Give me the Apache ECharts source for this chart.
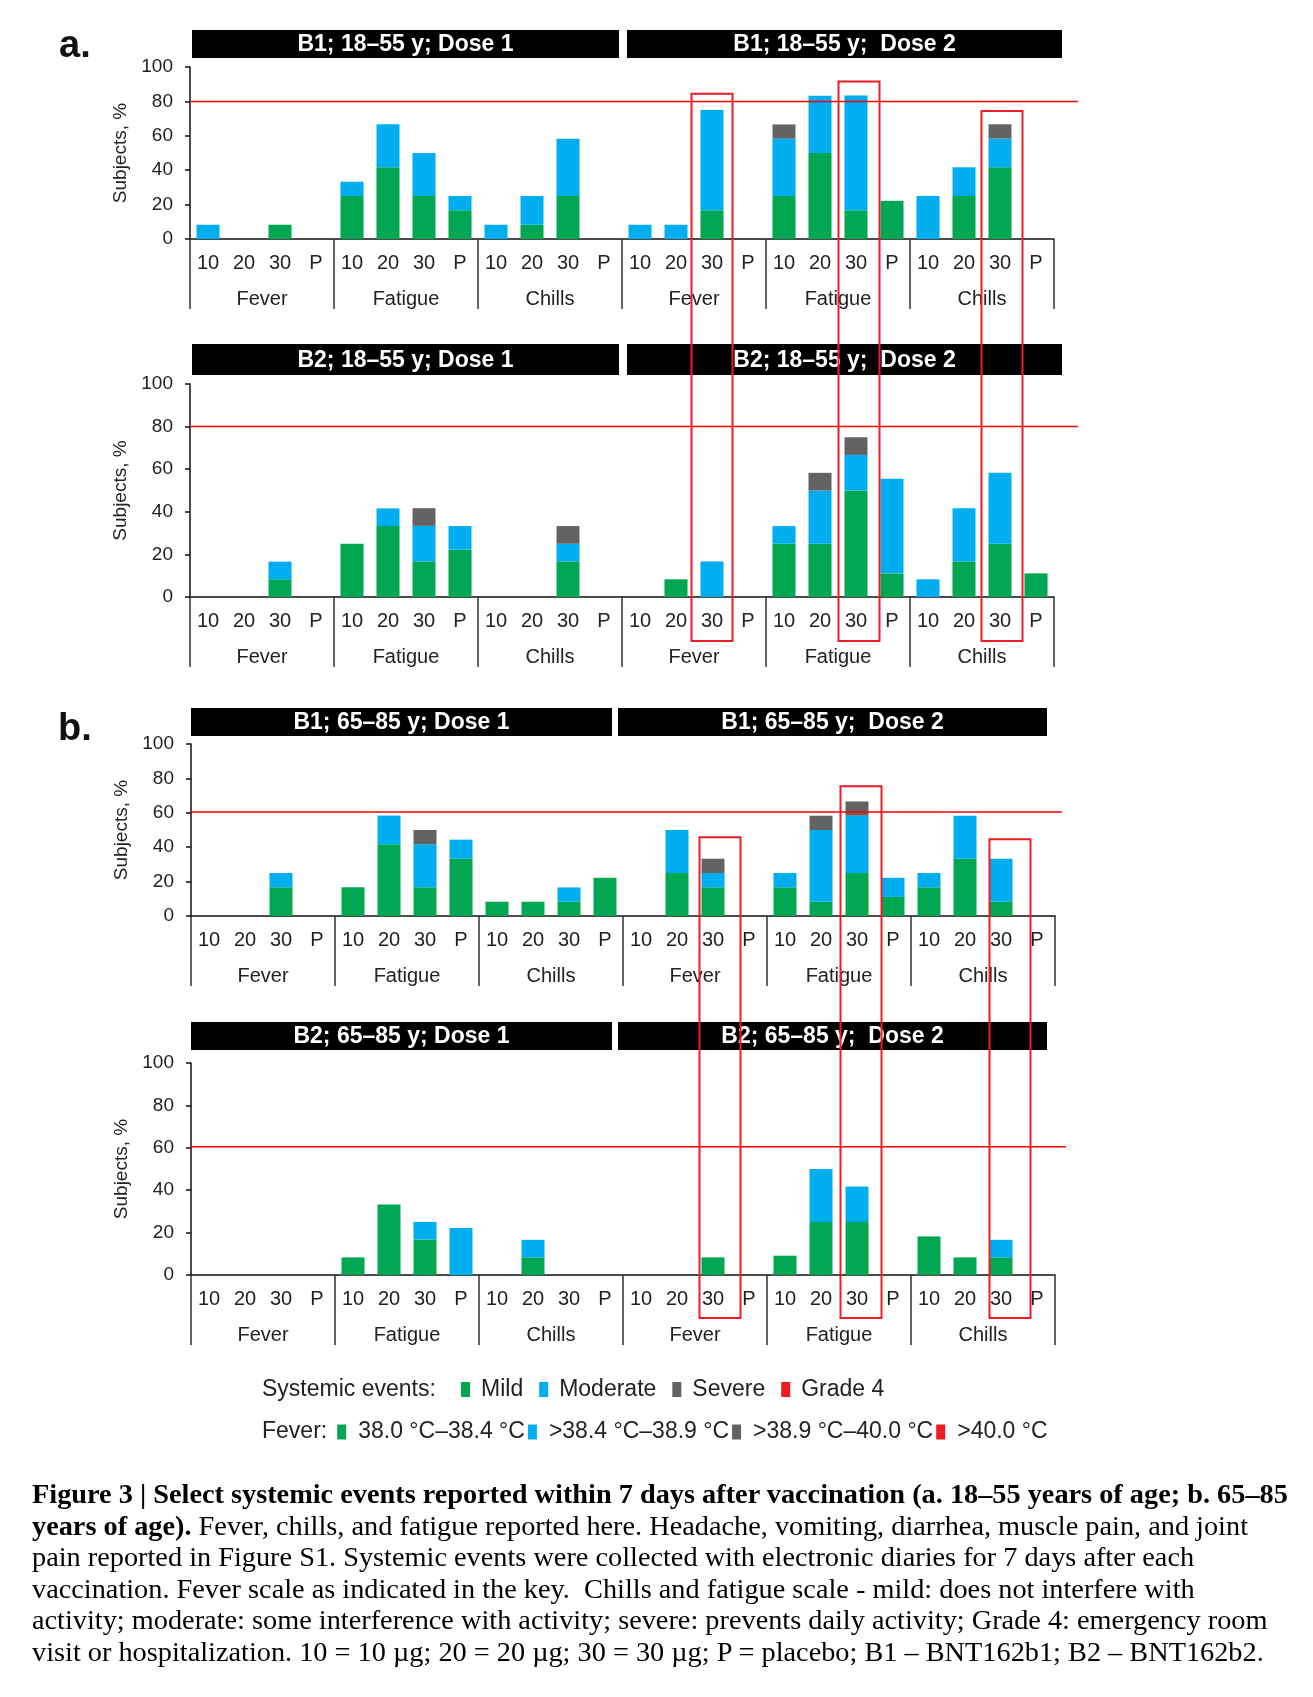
<!DOCTYPE html>
<html><head><meta charset="utf-8">
<script src="https://cdn.jsdelivr.net/npm/echarts@6.0.0/dist/echarts.min.js"></script>
<style>
html,body{margin:0;padding:0;background:#fff;}
#chart{position:absolute;left:0;top:0;width:1313px;height:1697px;}
#cap{position:absolute;left:32px;top:1478px;font-family:"Liberation Serif","Times New Roman",serif;font-size:28.3px;line-height:31.6px;color:#000;white-space:nowrap;}
</style>
</head><body>
<div id="chart"></div>
<div id="cap"><b>Figure 3 | Select systemic events reported within 7 days after vaccination (a. 18–55 years of age; b. 65–85</b><br><b>years of age).</b> Fever, chills, and fatigue reported here. Headache, vomiting, diarrhea, muscle pain, and joint<br>pain reported in Figure S1. Systemic events were collected with electronic diaries for 7 days after each<br>vaccination. Fever scale as indicated in the key.&nbsp; Chills and fatigue scale - mild: does not interfere with<br>activity; moderate: some interference with activity; severe: prevents daily activity; Grade 4: emergency room<br>visit or hospitalization. 10 = 10 µg; 20 = 20 µg; 30 = 30 µg; P = placebo; B1 – BNT162b1; B2 – BNT162b2.</div>
<script>
// ---------- data ----------
const doseLevels = ['10', '20', '30', 'P'];
const eventNames = ['Fever', 'Fatigue', 'Chills'];
const doseCount = 2;
const severityNames = ['Mild', 'Moderate', 'Severe', 'Grade 4'];
const severityColors = ['#00a651', '#00aeef', '#636363', '#ed1c24'];
const yMin = 0, yMax = 100, yStep = 20;

const panelTitles = [
  ['B1; 18–55 y; Dose 1', 'B1; 18–55 y;  Dose 2'],
  ['B2; 18–55 y; Dose 1', 'B2; 18–55 y;  Dose 2'],
  ['B1; 65–85 y; Dose 1', 'B1; 65–85 y;  Dose 2'],
  ['B2; 65–85 y; Dose 1', 'B2; 65–85 y;  Dose 2']
];

// order: Dose1 Fever(10,20,30,P) Fatigue Chills | Dose2 Fever Fatigue Chills
const a1Mild     = [0,0,8.3,0, 25,41.7,25,16.7, 0,8.3,25,0, 0,0,16.7,0, 25,50,16.7,22.2, 0,25,41.7,0];
const a1Moderate = [8.3,0,0,0, 8.3,25,25,8.3, 8.3,16.7,33.3,0, 8.3,8.3,58.3,0, 33.3,33.3,66.7,0, 25,16.7,16.7,0];
const a1Severe   = [0,0,0,0, 0,0,0,0, 0,0,0,0, 0,0,0,0, 8.3,0,0,0, 0,0,8.3,0];
const a1Grade4   = [0,0,0,0, 0,0,0,0, 0,0,0,0, 0,0,0,0, 0,0,0,0, 0,0,0,0];

const a2Mild     = [0,0,8.3,0, 25,33.3,16.7,22.2, 0,0,16.7,0, 0,8.3,0,0, 25,25,50,11.1, 0,16.7,25,11.1];
const a2Moderate = [0,0,8.3,0, 0,8.3,16.7,11.1, 0,0,8.3,0, 0,0,16.7,0, 8.3,25,16.7,44.4, 8.3,25,33.3,0];
const a2Severe   = [0,0,0,0, 0,0,8.3,0, 0,0,8.3,0, 0,0,0,0, 0,8.3,8.3,0, 0,0,0,0];
const a2Grade4   = [0,0,0,0, 0,0,0,0, 0,0,0,0, 0,0,0,0, 0,0,0,0, 0,0,0,0];

const b1Mild     = [0,0,16.7,0, 16.7,41.7,16.7,33.3, 8.3,8.3,8.3,22.2, 0,25,16.7,0, 16.7,8.3,25,11.1, 16.7,33.3,8.3,0];
const b1Moderate = [0,0,8.3,0, 0,16.7,25,11.1, 0,0,8.3,0, 0,25,8.3,0, 8.3,41.7,33.3,11.1, 8.3,25,25,0];
const b1Severe   = [0,0,0,0, 0,0,8.3,0, 0,0,0,0, 0,0,8.3,0, 0,8.3,8.3,0, 0,0,0,0];
const b1Grade4   = [0,0,0,0, 0,0,0,0, 0,0,0,0, 0,0,0,0, 0,0,0,0, 0,0,0,0];

const b2Mild     = [0,0,0,0, 8.3,33.3,16.7,0, 0,8.3,0,0, 0,0,8.3,0, 9.1,25,25,0, 18.2,8.3,8.3,0];
const b2Moderate = [0,0,0,0, 0,0,8.3,22.2, 0,8.3,0,0, 0,0,0,0, 0,25,16.7,0, 0,0,8.3,0];
const b2Severe   = [0,0,0,0, 0,0,0,0, 0,0,0,0, 0,0,0,0, 0,0,0,0, 0,0,0,0];
const b2Grade4   = [0,0,0,0, 0,0,0,0, 0,0,0,0, 0,0,0,0, 0,0,0,0, 0,0,0,0];

const panelValues = [
  [a1Mild, a1Moderate, a1Severe, a1Grade4],
  [a2Mild, a2Moderate, a2Severe, a2Grade4],
  [b1Mild, b1Moderate, b1Severe, b1Grade4],
  [b2Mild, b2Moderate, b2Severe, b2Grade4]
];

const thresholds = [80, 80, 60.5, 60.5];
// highlighted categories (Dose 2, 30 µg of each event) and top of their boxes (value on upper panel)
const highlightIdx = [14, 18, 22];
const highlightTopA = [84.5, 91.6, 74.4];
const highlightTopB = [45.8, 75.5, 44.6];

// ---------- build categories ----------
const categories = [];
const groupLabels = [];
for (let d = 0; d < doseCount; d++) {
  eventNames.forEach(ev => {
    groupLabels.push(ev);
    doseLevels.forEach(l => categories.push(l));
  });
}

// ---------- layout ----------
const FONT = '"Liberation Sans", Arial, Helvetica, sans-serif';
const TXT = '#222';
const plotWidth = 864;
const grids = [
  {left: 190, top: 67, height: 172},
  {left: 190, top: 384, height: 213},
  {left: 191, top: 744, height: 172},
  {left: 191, top: 1063, height: 212}
];
const headers = [
  {top: 30, h: 28, l: [192, 619], r: [627, 1062]},
  {top: 344, h: 31, l: [192, 619], r: [627, 1062]},
  {top: 708, h: 28, l: [191, 612], r: [618, 1047]},
  {top: 1022, h: 28, l: [191, 612], r: [618, 1047]}
];
const redLineRight = [1078, 1078, 1062, 1066];
const boxShiftA = [0, 3, 2], boxShiftB = [7, 4, 9];

const option = {
  animation: false,
  textStyle: {fontFamily: FONT},
  grid: [], xAxis: [], yAxis: [], series: [],
  legend: {
    data: severityNames, left: 456, top: 1373, icon: 'rect',
    itemWidth: 9, itemHeight: 15, itemGap: 16, selectedMode: false,
    textStyle: {fontSize: 23, color: TXT, fontFamily: FONT, padding: [0, 0, 0, 6]}
  }
};

grids.forEach((gr, g) => {
  option.grid.push({left: gr.left, top: gr.top, width: plotWidth, height: gr.height});
  option.xAxis.push({
    type: 'category', gridIndex: g, data: categories, position: 'bottom',
    axisLine: {show: true, lineStyle: {color: '#111', width: 1.5}},
    axisTick: {show: false},
    axisLabel: {interval: 0, margin: 14, fontSize: 20, color: TXT, fontFamily: FONT}
  });
  option.xAxis.push({
    type: 'category', gridIndex: g, data: groupLabels, position: 'bottom',
    axisLine: {show: false},
    axisTick: {show: true, length: 70, lineStyle: {color: '#333', width: 1.5}},
    axisLabel: {interval: 0, margin: 50, fontSize: 20, color: TXT, fontFamily: FONT}
  });
  option.yAxis.push({
    type: 'value', gridIndex: g, min: yMin, max: yMax, interval: yStep,
    axisLine: {show: true, lineStyle: {color: '#111', width: 1.5}},
    axisTick: {show: true, length: 5, lineStyle: {color: '#111', width: 1.5}},
    splitLine: {show: false},
    axisLabel: {fontSize: 19, color: TXT, margin: 17, fontFamily: FONT},
    name: 'Subjects, %', nameLocation: 'middle', nameGap: 53,
    nameTextStyle: {fontSize: 19, color: TXT, fontFamily: FONT}
  });
  panelValues[g].forEach((arr, s) => {
    option.series.push({
      type: 'bar', name: severityNames[s], xAxisIndex: 2 * g, yAxisIndex: g,
      stack: 'p' + g, data: arr, barWidth: 23,
      itemStyle: {color: severityColors[s]}
    });
  });
});

const chart = echarts.init(document.getElementById('chart'), null, {renderer: 'canvas'});
chart.setOption(option);

// ---------- annotations ----------
const gfx = [];
gfx.push({type: 'text', x: 59, y: 47, style: {text: 'a.', font: 'bold 38px ' + FONT, fill: '#111', align: 'left', verticalAlign: 'middle'}});
gfx.push({type: 'text', x: 58, y: 730, style: {text: 'b.', font: 'bold 38px ' + FONT, fill: '#111', align: 'left', verticalAlign: 'middle'}});

headers.forEach((h, g) => {
  [h.l, h.r].forEach((span, k) => {
    gfx.push({type: 'rect', shape: {x: span[0], y: h.top, width: span[1] - span[0], height: h.h}, style: {fill: '#000'}});
    gfx.push({type: 'text', x: (span[0] + span[1]) / 2, y: h.top + h.h / 2 + 1,
      style: {text: panelTitles[g][k], font: 'bold 23px ' + FONT, fill: '#fff', align: 'center', verticalAlign: 'middle'}});
  });
});

grids.forEach((gr, g) => {
  const y = chart.convertToPixel({yAxisIndex: g}, thresholds[g]);
  gfx.push({type: 'line', z: 10, shape: {x1: gr.left, y1: y, x2: redLineRight[g], y2: y}, style: {stroke: '#ff0000', lineWidth: 1.5}});
});

function addBoxes(upper, lower, tops, shifts, offset) {
  highlightIdx.forEach((idx, i) => {
    const cx = chart.convertToPixel({xAxisIndex: 2 * upper}, idx) + shifts[i];
    const yTop = chart.convertToPixel({yAxisIndex: upper}, tops[i]);
    const yBot = chart.convertToPixel({yAxisIndex: lower}, 0) + offset;
    gfx.push({type: 'rect', z: 10, shape: {x: cx - 20.5, y: yTop, width: 41, height: yBot - yTop},
      style: {fill: 'none', stroke: '#ee1c25', lineWidth: 2}});
  });
}
addBoxes(0, 1, highlightTopA, boxShiftA, 44);
addBoxes(2, 3, highlightTopB, boxShiftB, 43);

gfx.push({type: 'text', x: 262, y: 1390, style: {text: 'Systemic events:', font: '23px ' + FONT, fill: TXT, align: 'left', verticalAlign: 'middle'}});
gfx.push({type: 'text', x: 262, y: 1432, style: {
  text: 'Fever:{s1| }{g| }{s2| }38.0 °C–38.4 °C{s0| }{b| }{s2| }>38.4 °C–38.9 °C{s0| }{s| }{s2| }>38.9 °C–40.0 °C{s0| }{r| }{s2| }>40.0 °C',
  font: '23px ' + FONT, fill: TXT, align: 'left', verticalAlign: 'middle',
  rich: {
    s0: {width: 3}, s1: {width: 10}, s2: {width: 12},
    g: {backgroundColor: severityColors[0], width: 9, height: 15},
    b: {backgroundColor: severityColors[1], width: 9, height: 15},
    s: {backgroundColor: severityColors[2], width: 9, height: 15},
    r: {backgroundColor: severityColors[3], width: 9, height: 15}
  }
}});

chart.setOption({graphic: gfx});
</script>
</body></html>
